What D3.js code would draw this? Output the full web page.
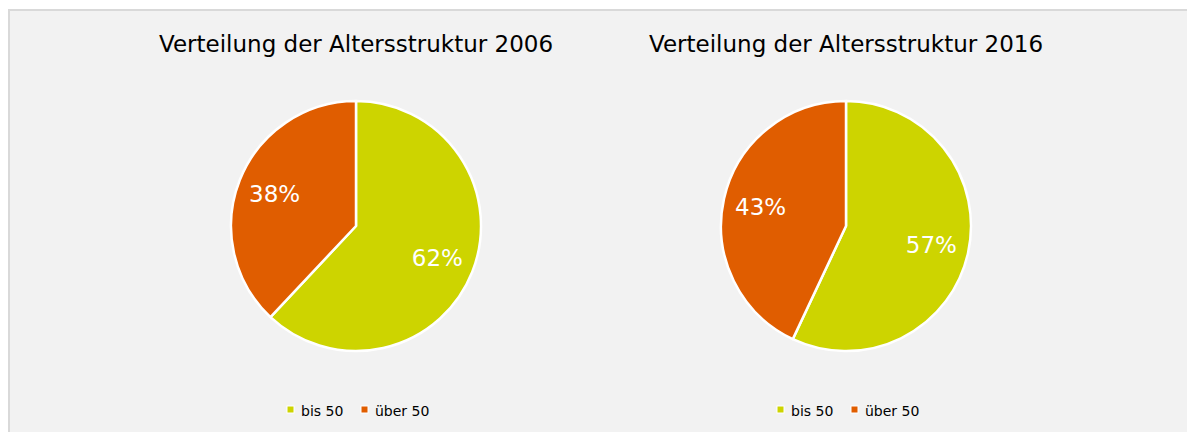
<!DOCTYPE html>
<html>
<head>
<meta charset="utf-8">
<script src="https://cdn.jsdelivr.net/npm/d3@7"></script>
<style>
  body { margin: 0; background: #fff; }
  text { font-family: "DejaVu Sans", Verdana, sans-serif; }
</style>
</head>
<body>
<div class="chart-container"></div>
<script>
const categories = ['bis 50', 'über 50'];
const years = ['2006', '2016'];
const values2006 = [62, 38];
const values2016 = [57, 43];
const colors = ['#cdd400', '#e05d00'];

const width = 1187, height = 432;
const radius = 125;

const svg = d3.select('.chart-container').append('svg')
    .attr('width', width)
    .attr('height', height);

// grey panel with light border on top / left
svg.append('rect')
    .attr('x', 8).attr('y', 9)
    .attr('width', width).attr('height', height)
    .attr('fill', '#f2f2f2');
svg.append('line')
    .attr('x1', 8).attr('x2', width).attr('y1', 10).attr('y2', 10)
    .attr('stroke', '#d9d9d9').attr('stroke-width', 2);
svg.append('line')
    .attr('x1', 9).attr('x2', 9).attr('y1', 9).attr('y2', height)
    .attr('stroke', '#d9d9d9').attr('stroke-width', 2);

const color = d3.scaleOrdinal().domain(categories).range(colors);

const pie = d3.pie().sort(null).value(d => d.value);
const arc = d3.arc().innerRadius(0).outerRadius(radius);
const labelArc = d3.arc().innerRadius(radius * 0.7).outerRadius(radius * 0.7);

const charts = [
    {year: years[0], values: values2006, cx: 356},
    {year: years[1], values: values2016, cx: 846}
];

charts.forEach(c => {
    const g = svg.append('g').attr('transform', 'translate(' + c.cx + ',0)');

    g.append('text')
        .attr('x', 0).attr('y', 52)
        .attr('text-anchor', 'middle')
        .attr('font-size', 23)
        .attr('fill', '#000')
        .text('Verteilung der Altersstruktur ' + c.year);

    const data = categories.map((k, i) => ({key: k, value: c.values[i]}));
    const arcs = pie(data);

    const p = g.append('g').attr('transform', 'translate(0,226)');
    p.selectAll('path')
        .data(arcs)
        .enter()
        .append('path')
        .attr('d', arc)
        .attr('fill', d => color(d.data.key))
        .attr('stroke', '#fff')
        .attr('stroke-width', 2.5)
        .attr('stroke-linejoin', 'round');

    p.selectAll('text')
        .data(arcs)
        .enter()
        .append('text')
        .attr('transform', d => 'translate(' + labelArc.centroid(d) + ')')
        .attr('text-anchor', 'middle')
        .attr('dy', '0.36em')
        .attr('font-size', 23)
        .attr('fill', '#fff')
        .text(d => d.data.value + '%');

    // legend
    const legendX = [-69, 5];
    const legend = g.append('g').attr('transform', 'translate(0,416)');
    categories.forEach((k, i) => {
        legend.append('rect')
            .attr('x', legendX[i]).attr('y', -10)
            .attr('width', 7).attr('height', 7)
            .attr('fill', color(k))
            .attr('stroke', '#fff')
            .attr('stroke-width', 1);
        legend.append('text')
            .attr('x', legendX[i] + 14).attr('y', 0)
            .attr('font-size', 14)
            .attr('fill', '#000')
            .text(k);
    });
});
</script>
</body>
</html>
